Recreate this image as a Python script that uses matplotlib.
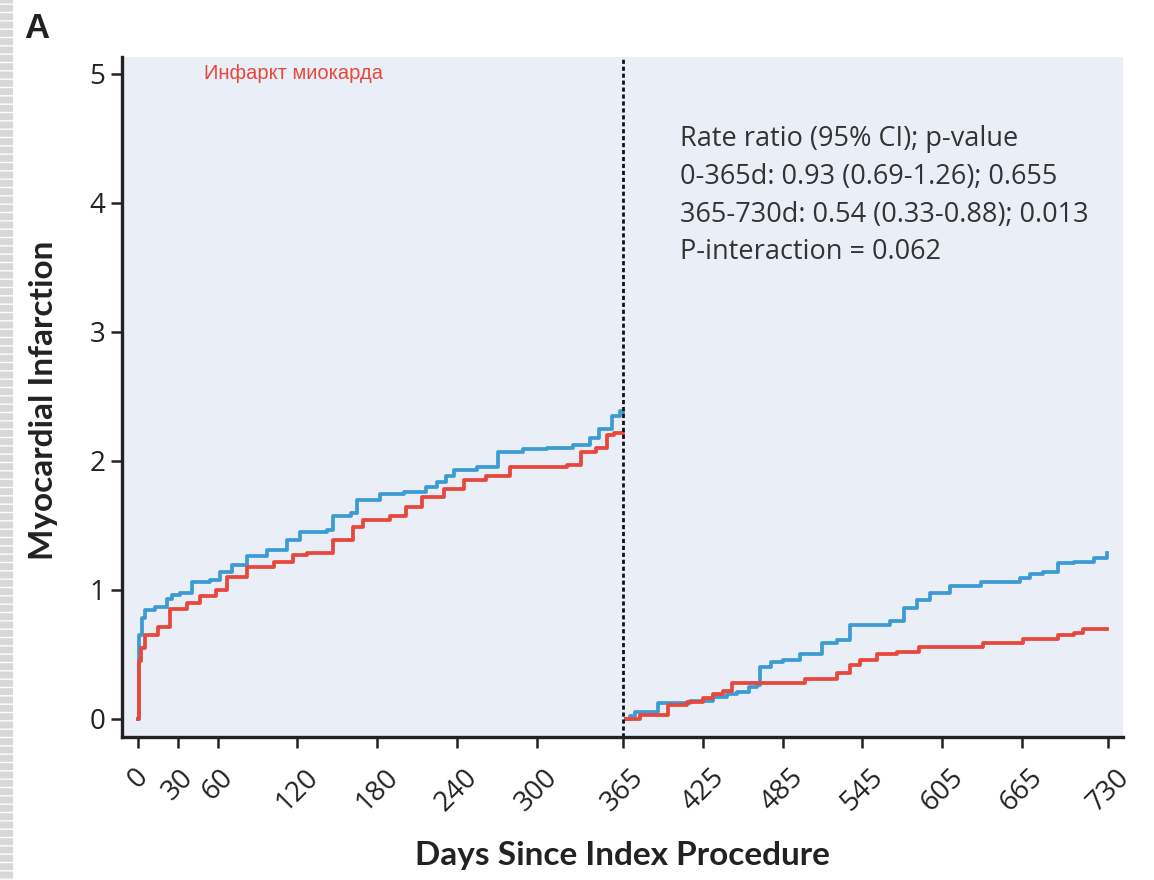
import matplotlib
matplotlib.use("Agg")
import matplotlib.pyplot as plt
from matplotlib.patches import Rectangle

# cumulative MI (%), step curves
blue_y1_days = [0, 0.5, 1, 3, 5, 13, 22, 26, 32, 41, 54, 62, 71, 82, 97, 112, 122, 142, 147,
                160, 165, 182, 200, 217, 225, 232, 238, 255, 271, 290, 308, 327, 340, 347, 357,
                363, 365]
blue_y1_vals = [0, 0.5, 0.65, 0.78, 0.845, 0.87, 0.93, 0.96, 0.98, 1.06, 1.08, 1.14, 1.19, 1.26,
                1.31, 1.39, 1.45, 1.465, 1.57, 1.6, 1.7, 1.74, 1.76, 1.8, 1.84, 1.88, 1.93, 1.95,
                2.07, 2.09, 2.1, 2.12, 2.18, 2.25, 2.35, 2.39, 2.37]

red_y1_days = [0, 0.5, 2, 5, 15, 24, 37, 47, 59, 67, 82, 102, 117, 127, 147, 162, 169, 190, 202,
               214, 230, 245, 262, 280, 323, 333, 345, 353, 358, 365]
red_y1_vals = [0, 0.45, 0.55, 0.65, 0.71, 0.85, 0.9, 0.95, 1.0, 1.1, 1.18, 1.22, 1.27, 1.29, 1.39,
               1.49, 1.54, 1.57, 1.64, 1.72, 1.78, 1.85, 1.88, 1.95, 1.97, 2.07, 2.1, 2.2, 2.22, 2.22]

blue_y2_days = [367, 370, 374, 391, 415, 433, 443, 451, 460, 466, 468, 476, 485, 498, 515, 526,
                536, 566, 576, 586, 596, 611, 634, 664, 671, 681, 692, 704, 719, 729]
blue_y2_vals = [0.0, 0.02, 0.05, 0.12, 0.14, 0.17, 0.19, 0.21, 0.25, 0.26, 0.40, 0.44, 0.46, 0.50,
                0.59, 0.61, 0.73, 0.76, 0.86, 0.92, 0.98, 1.03, 1.06, 1.09, 1.12, 1.14, 1.21, 1.22,
                1.25, 1.29]

red_y2_days = [367, 378, 399, 413, 425, 433, 440, 447, 502, 526, 536, 543, 556, 571, 588, 636,
               666, 692, 704, 711, 729]
red_y2_vals = [0.0, 0.03, 0.11, 0.13, 0.16, 0.19, 0.22, 0.28, 0.31, 0.36, 0.42, 0.46, 0.50, 0.52,
               0.56, 0.59, 0.62, 0.65, 0.67, 0.70, 0.70]

xticks = [0, 30, 60, 120, 180, 240, 300, 365, 425, 485, 545, 605, 665, 730]
yticks = [0, 1, 2, 3, 4, 5]

stats_lines = ["Rate ratio (95% CI); p-value",
               "0-365d: 0.93 (0.69-1.26); 0.655",
               "365-730d: 0.54 (0.33-0.88); 0.013",
               "P-interaction = 0.062"]

BLUE = "#3d9bd3"
RED = "#e8473c"
INK = "#222222"

fig = plt.figure(figsize=(11.54, 8.8), dpi=100)
ax = fig.add_axes([0.1057, 0.1625, 0.8673, 0.7725])
ax.set_facecolor("#eaeff7")

# left page border strip
fig.patches.append(Rectangle((0, 0), 0.011, 1, transform=fig.transFigure,
                             facecolor="#d8d8d8", edgecolor="white", hatch="--", lw=0))

ax.plot(blue_y1_days, blue_y1_vals, drawstyle="steps-post", color=BLUE, lw=2.7)
ax.plot(blue_y2_days, blue_y2_vals, drawstyle="steps-post", color=BLUE, lw=2.7)
ax.plot(red_y1_days, red_y1_vals, drawstyle="steps-post", color=RED, lw=2.7)
ax.plot(red_y2_days, red_y2_vals, drawstyle="steps-post", color=RED, lw=2.7)

ax.axvline(365, color="#111111", lw=2, linestyle=(0, (1.5, 1)))

ax.set_xlim(-12, 741)
ax.set_ylim(-0.14, 5.13)
ax.set_xticks(xticks)
ax.set_yticks(yticks)

for s in ["top", "right"]:
    ax.spines[s].set_visible(False)
for s in ["left", "bottom"]:
    ax.spines[s].set_linewidth(2.4)
    ax.spines[s].set_color(INK)

ax.tick_params(axis="both", length=8, width=1.8, color=INK, direction="out")
ax.tick_params(axis="x", pad=11)
ax.tick_params(axis="y", pad=4)
for lab in ax.get_xticklabels():
    lab.set_rotation(45)
    lab.set_fontfamily("Open Sans")
    lab.set_fontsize(20)
    lab.set_color(INK)
for lab in ax.get_yticklabels():
    lab.set_fontfamily("Open Sans")
    lab.set_fontsize(20)
    lab.set_color(INK)

ax.set_xlabel("Days Since Index Procedure", fontsize=24, fontweight="bold",
              family="Lato", color=INK)
ax.set_ylabel("Myocardial Infarction", fontsize=24, fontweight="bold",
              family="Lato", color=INK)
ax.xaxis.set_label_coords(0.5, -0.153)
ax.yaxis.set_label_coords(-0.064, 0.496)

ax.text(0.082, 0.976, "Инфаркт миокарда", transform=ax.transAxes, color=RED,
        fontsize=14.5, family="Liberation Sans", va="center", ha="left")

for i, line in enumerate(stats_lines):
    ax.text(0.558, 0.879 - i * 0.0552, line, transform=ax.transAxes, fontsize=19.5,
            family="Open Sans", color="#333333", va="center", ha="left")

fig.text(0.021, 0.968, "A", fontsize=25, fontweight="bold", family="Liberation Sans",
         color=INK, va="center", ha="left")

fig.savefig("out.png", dpi=100)
